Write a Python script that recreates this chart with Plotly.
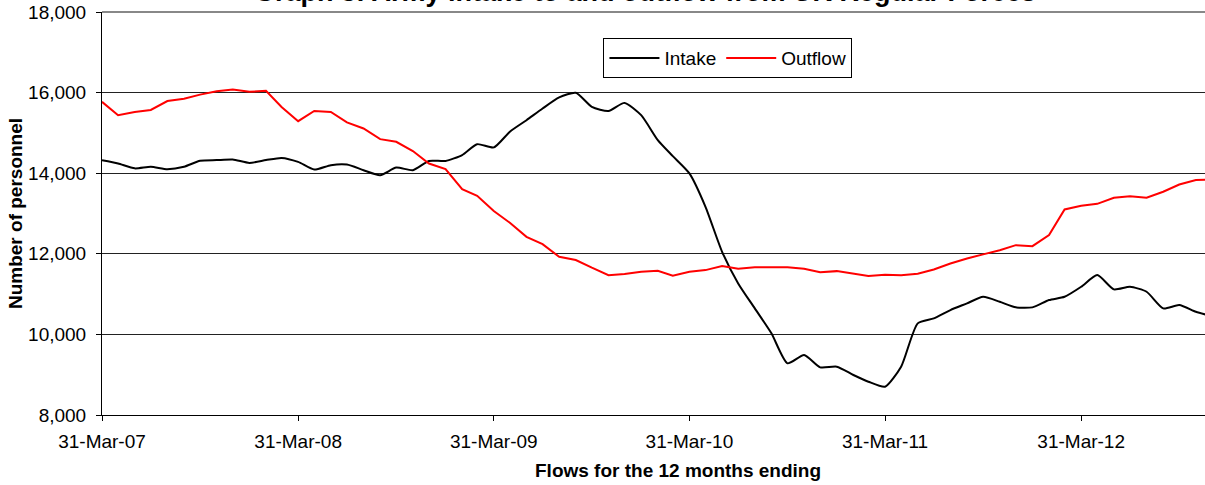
import pandas as pd
import plotly.graph_objects as go

# Month-end dates, Mar 2007 .. Nov 2012
months = pd.date_range("2007-03-31", periods=69, freq="ME")

intake = [
    14320, 14240, 14120, 14160, 14100, 14160, 14310, 14325, 14340, 14255,          # 2007 Mar-Dec
    14325, 14380, 14280, 14090, 14200, 14215, 14075, 13950, 14140, 14075, 14305, 14305,  # 2008
    14450, 14720, 14640, 15030, 15315, 15605, 15880, 15995, 15645, 15545, 15745, 15440,  # 2009
    14820, 14423, 13994, 13166, 12050, 11266, 10646, 10026, 9282, 9488, 9183, 9198,      # 2010
    8992, 8826, 8702, 9198, 10274, 10398, 10604, 10770, 10934, 10810, 10671, 10671,      # 2011
    10852, 10934, 11182, 11472, 11117, 11182, 11058, 10646, 10728, 10562, 10450,         # 2012 Jan-Nov
]

outflow = [
    15770, 15440, 15520, 15570, 15790, 15850, 15950, 16035, 16075, 16020,          # 2007 Mar-Dec
    16045, 15645, 15290, 15545, 15520, 15260, 15110, 14845, 14780, 14550, 14240, 14100,  # 2008
    13605, 13440, 13060, 12770, 12420, 12240, 11925, 11845, 11655, 11470, 11500, 11555,  # 2009
    11580, 11455, 11555, 11595, 11695, 11630, 11665, 11665, 11665, 11630, 11540, 11570,  # 2010
    11505, 11450, 11480, 11470, 11505, 11610, 11760, 11885, 11985, 12090, 12215, 12190,  # 2011
    12465, 13100, 13190, 13240, 13390, 13430, 13390, 13540, 13720, 13830, 13840,         # 2012 Jan-Nov
]

tick_dates = ["2007-03-31", "2008-03-31", "2009-03-31", "2010-03-31", "2011-03-31", "2012-03-31"]
tick_labels = ["31-Mar-07", "31-Mar-08", "31-Mar-09", "31-Mar-10", "31-Mar-11", "31-Mar-12"]
y_ticks = [8000, 10000, 12000, 14000, 16000, 18000]

FONT = "Liberation Sans, Arial, sans-serif"
FS = 19

fig = go.Figure()
fig.add_trace(go.Scatter(
    x=months, y=intake, name="Intake", mode="lines",
    line=dict(color="black", width=2, shape="spline", smoothing=0.6),
))
fig.add_trace(go.Scatter(
    x=months, y=outflow, name="Outflow", mode="lines",
    line=dict(color="#ff0000", width=2),
))

fig.update_layout(
    width=1205, height=485,
    margin=dict(l=102, r=0, t=12, b=70, autoexpand=False),
    paper_bgcolor="white", plot_bgcolor="white",
    font=dict(family=FONT, size=FS, color="black"),
    showlegend=True,
    legend=dict(
        orientation="h", x=0.5675, xanchor="center", y=0.935, yanchor="top",
        bgcolor="white", bordercolor="black", borderwidth=1,
        font=dict(size=FS, family=FONT), itemwidth=50,
        tracegroupgap=0,
    ),
    xaxis=dict(
        type="date", automargin=False,
        range=["2007-03-31", "2012-11-17"],
        tickvals=tick_dates, ticktext=tick_labels,
        showgrid=False, zeroline=False,
        showline=True, linecolor="black", linewidth=1,
        ticks="outside", ticklen=5, tickcolor="black",
        ticklabelstandoff=4,
        tickfont=dict(size=FS),
    ),
    yaxis=dict(
        range=[8000, 18000], automargin=False,
        tickvals=y_ticks, tickformat=",d",
        ticklabeloverflow="allow",
        showgrid=True, gridcolor="#222222", gridwidth=1,
        zeroline=False,
        showline=True, linecolor="black", linewidth=1,
        ticks="outside", ticklen=5, tickcolor="black",
        ticklabelstandoff=6,
        tickfont=dict(size=FS),
        title=dict(text="<b>Number of personnel</b>", font=dict(size=FS), standoff=0),
    ),
    annotations=[
        dict(
            text="<b>Graph 3: Army intake to and outflow from UK Regular Forces</b>",
            xref="paper", yref="paper", x=0.492, y=1.0075,
            xanchor="center", yanchor="bottom", showarrow=False,
            font=dict(size=27, family=FONT, color="black"),
        ),
        dict(
            text="<b>Flows for the 12 months ending</b>",
            xref="paper", yref="paper", x=0.522, y=-0.137,
            xanchor="center", yanchor="middle", showarrow=False,
            font=dict(size=FS, family=FONT, color="black"),
        ),
    ],
)

# Gray plot-area top border
fig.add_shape(type="line", xref="paper", yref="paper", x0=0, x1=1, y0=1, y1=1,
              line=dict(color="#888888", width=2))

fig.write_html(
    "out.html",
    config={"displayModeBar": False},
    post_script="document.body.style.margin='0';document.body.style.overflow='hidden';",
)
